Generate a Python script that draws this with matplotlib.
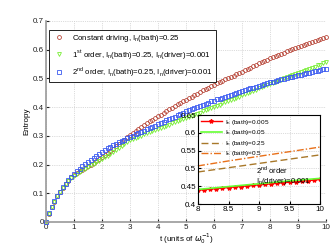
#!/usr/bin/env python3
import numpy as np
import matplotlib
matplotlib.use('Agg')
import matplotlib.pyplot as plt

# time axis, one sample every 0.1
t = np.arange(101) / 10.0

s_const = [
    0.000, 0.029, 0.052, 0.071, 0.089, 0.105, 0.119, 0.132, 0.144, 0.155, 0.164,
    0.170, 0.176, 0.182, 0.188, 0.194, 0.200, 0.206, 0.212, 0.219, 0.226,
    0.233, 0.240, 0.247, 0.255, 0.263, 0.271, 0.279, 0.287, 0.295, 0.303,
    0.310, 0.317, 0.324, 0.331, 0.338, 0.344, 0.350, 0.356, 0.362, 0.368,
    0.374, 0.380, 0.386, 0.392, 0.398, 0.404, 0.410, 0.415, 0.421, 0.426,
    0.431, 0.437, 0.442, 0.447, 0.452, 0.458, 0.463, 0.468, 0.473, 0.478,
    0.483, 0.488, 0.492, 0.497, 0.501, 0.506, 0.510, 0.515, 0.520, 0.524,
    0.529, 0.534, 0.538, 0.543, 0.547, 0.552, 0.556, 0.561, 0.565, 0.570,
    0.574, 0.578, 0.582, 0.586, 0.590, 0.594, 0.598, 0.602, 0.606, 0.610,
    0.614, 0.617, 0.621, 0.624, 0.628, 0.631, 0.634, 0.638, 0.641, 0.644,
]
s_first = [
    0.000, 0.029, 0.052, 0.071, 0.089, 0.104, 0.118, 0.131, 0.142, 0.152, 0.160,
    0.167, 0.174, 0.180, 0.186, 0.192, 0.198, 0.203, 0.208, 0.213, 0.218,
    0.225, 0.231, 0.238, 0.245, 0.252, 0.259, 0.266, 0.272, 0.279, 0.285,
    0.289, 0.293, 0.297, 0.301, 0.305, 0.309, 0.313, 0.317, 0.321, 0.325,
    0.329, 0.332, 0.336, 0.339, 0.343, 0.347, 0.350, 0.354, 0.357, 0.361,
    0.365, 0.369, 0.373, 0.377, 0.381, 0.385, 0.389, 0.393, 0.397, 0.401,
    0.405, 0.409, 0.413, 0.417, 0.421, 0.425, 0.429, 0.433, 0.437, 0.441,
    0.445, 0.449, 0.453, 0.457, 0.461, 0.465, 0.469, 0.473, 0.477, 0.481,
    0.485, 0.489, 0.492, 0.496, 0.500, 0.504, 0.507, 0.511, 0.515, 0.518,
    0.522, 0.526, 0.530, 0.533, 0.537, 0.541, 0.545, 0.548, 0.552, 0.556,
]
s_second = [
    0.000, 0.030, 0.053, 0.072, 0.090, 0.106, 0.121, 0.134, 0.147, 0.158, 0.168,
    0.177, 0.186, 0.194, 0.202, 0.209, 0.216, 0.223, 0.230, 0.237, 0.244,
    0.250, 0.256, 0.262, 0.267, 0.272, 0.277, 0.282, 0.287, 0.291, 0.296,
    0.300, 0.305, 0.309, 0.314, 0.318, 0.323, 0.327, 0.332, 0.336, 0.340,
    0.345, 0.349, 0.354, 0.358, 0.363, 0.367, 0.372, 0.376, 0.381, 0.385,
    0.389, 0.393, 0.397, 0.401, 0.405, 0.408, 0.412, 0.416, 0.420, 0.423,
    0.427, 0.430, 0.433, 0.437, 0.440, 0.443, 0.446, 0.450, 0.453, 0.456,
    0.459, 0.462, 0.465, 0.468, 0.471, 0.475, 0.478, 0.481, 0.484, 0.487,
    0.489, 0.492, 0.494, 0.497, 0.499, 0.502, 0.504, 0.506, 0.509, 0.511,
    0.513, 0.516, 0.518, 0.520, 0.523, 0.525, 0.527, 0.530, 0.532, 0.534,
]

# inset: 2nd order, different bath noise
t_in = np.arange(80, 101) / 10.0
s_b005 = [0.439, 0.440, 0.442, 0.443, 0.445, 0.446, 0.448, 0.449, 0.451, 0.452,
          0.454, 0.455, 0.457, 0.458, 0.460, 0.461, 0.463, 0.464, 0.466, 0.467,
          0.469]
t_ln = [8.0, 8.5, 9.0, 9.5, 10.0]
s_b05 = [0.441, 0.449, 0.457, 0.465, 0.472]
s_b25 = [0.490, 0.502, 0.514, 0.526, 0.538]
s_b5 = [0.507, 0.521, 0.534, 0.547, 0.560]

plt.rcParams.update({
    'font.family': 'Liberation Sans',
    'font.size': 5.8,
    'xtick.labelsize': 5.8,
    'ytick.labelsize': 5.8,
    'xtick.direction': 'in',
    'ytick.direction': 'in',
    'xtick.major.size': 2,
    'ytick.major.size': 2,
})

fig = plt.figure(figsize=(3.32, 2.46), dpi=100)
ax = fig.add_axes([0.1386, 0.0976, 0.8434, 0.8171])

ms = 2.8
ax.plot(t, s_const, 'o', mfc='none', mec='#b8473a', ms=ms, mew=0.6,
        clip_on=False, label='Constant driving, I$_\\mathregular{n}$(bath)=0.25')
ax.plot(t, s_first, 'v', mfc='none', mec='#77ee33', ms=ms, mew=0.6,
        clip_on=False,
        label='1$^\\mathregular{st}$ order, I$_\\mathregular{n}$(bath)=0.25, I$_\\mathregular{n}$(driver)=0.001')
ax.plot(t, s_second, 's', mfc='none', mec='#3a5af0', ms=ms, mew=0.6,
        clip_on=False,
        label='2$^\\mathregular{nd}$ order, I$_\\mathregular{n}$(bath)=0.25, I$_\\mathregular{n}$(driver)=0.001')

ax.set_xlim(0, 10)
ax.set_ylim(0, 0.7)
ax.set_xticks(range(11))
ax.set_yticks([0, 0.1, 0.2, 0.3, 0.4, 0.5, 0.6, 0.7])
ax.set_yticklabels(['0', '0.1', '0.2', '0.3', '0.4', '0.5', '0.6', '0.7'])
ax.grid(True, ls=':', lw=0.5, color='#bbbbbb')
for side in ('top', 'right'):
    ax.spines[side].set_visible(False)
for side in ('left', 'bottom'):
    ax.spines[side].set_color('#999999')
    ax.spines[side].set_linewidth(1.2)
ax.tick_params(pad=1.5, colors='#222222')
ax.set_xlabel('t (units of $\\omega_0^{-1}$)', labelpad=0)
ax.set_ylabel('Entropy', labelpad=2)

leg = ax.legend(loc='upper left', bbox_to_anchor=(0.012, 0.955), fontsize=5.6,
                fancybox=False, edgecolor='black', framealpha=1,
                handletextpad=0.9, borderpad=0.4, labelspacing=0.5,
                handlelength=1.6, borderaxespad=0)
leg.get_frame().set_linewidth(0.6)

# inset
ins = fig.add_axes([0.5964, 0.1707, 0.3675, 0.3618])
ins.plot(t_in, s_b005, '-', color='#ff0000', lw=1.0, marker='*', ms=3,
         label='I$_\\mathregular{n}$ (bath)=0.005')
ins.plot(t_ln, s_b05, '-', color='#66ff33', lw=1.2,
         label='I$_\\mathregular{n}$ (bath)=0.05')
ins.plot(t_ln, s_b25, '--', color='#a8782a', lw=1.0, dashes=(5, 2.5),
         label='I$_\\mathregular{n}$ (bath)=0.25')
ins.plot(t_ln, s_b5, '-.', color='#e8701a', lw=1.0, dashes=(5, 1.5, 1, 1.5),
         label='I$_\\mathregular{n}$ (bath)=0.5')
ins.set_xlim(8, 10)
ins.set_ylim(0.4, 0.65)
ins.set_xticks([8, 8.5, 9, 9.5, 10])
ins.set_xticklabels(['8', '8.5', '9', '9.5', '10'])
ins.set_yticks([0.4, 0.45, 0.5, 0.55, 0.6, 0.65])
ins.set_yticklabels(['0.4', '0.45', '0.5', '0.55', '0.6', '0.65'])
ins.grid(True, ls=':', lw=0.5, color='#bbbbbb')
ins.tick_params(pad=1.5)
for sp in ins.spines.values():
    sp.set_linewidth(0.8)
ins.legend(loc='upper left', frameon=False, fontsize=4.6, handlelength=3.4,
           handletextpad=0.5, labelspacing=0.25, borderaxespad=0.15,
           borderpad=0.25)
ins.text(8.95, 0.512, '2$^\\mathregular{nd}$ order\nI$_\\mathregular{n}$(driver)=0.001',
         fontsize=5.5, linespacing=1.0, va='top')

fig.savefig('out.png', dpi=100)
